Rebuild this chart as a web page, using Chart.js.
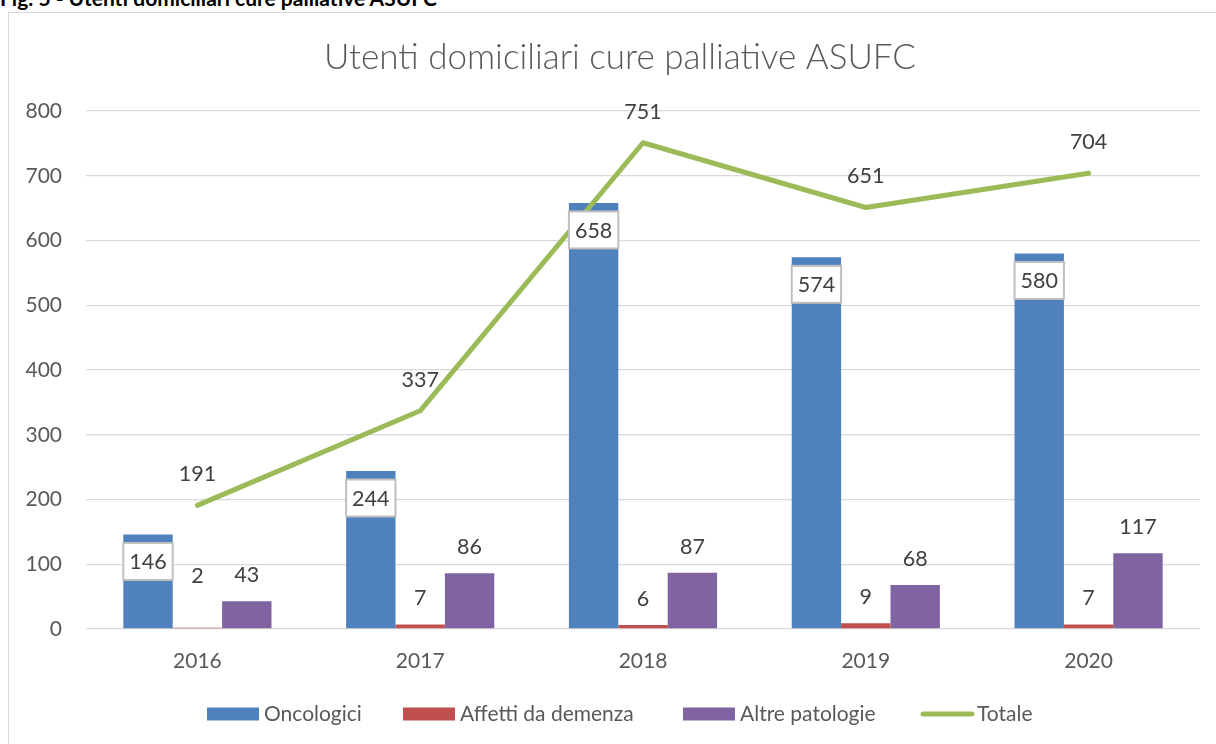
<!DOCTYPE html>
<html>
<head>
<meta charset="utf-8">
<script src="https://cdn.jsdelivr.net/npm/chart.js@4.4.1/dist/chart.umd.min.js"></script>
<style>
  html, body { margin: 0; padding: 0; background: #fff; overflow: hidden; }
  body { width: 1216px; height: 744px; position: relative; }
  #caption { position: absolute; left: 0; top: -14px; font: bold 21px Lato, sans-serif; color: #000; white-space: nowrap; line-height: 24px; }
  #frame { position: absolute; left: 8px; top: 12px; width: 1260px; height: 800px; border: 1px solid #D9D9D9; box-sizing: border-box; background: #fff; }
  #wrap { position: absolute; left: 0; top: 0; width: 1216px; height: 744px; }
</style>
</head>
<body>
<div id="caption">Fig. 5 - Utenti domiciliari cure palliative ASUFC</div>
<div id="frame"></div>
<div id="wrap"><canvas id="c" width="1216" height="744"></canvas></div>
<script>
const chartTitle = 'Utenti domiciliari cure palliative ASUFC';
const years = ['2016', '2017', '2018', '2019', '2020'];
const oncologici = [146, 244, 658, 574, 580];
const demenza = [2, 7, 6, 9, 7];
const altrePatologie = [43, 86, 87, 68, 117];
const totale = [191, 337, 751, 651, 704];
const seriesNames = ['Oncologici', 'Affetti da demenza', 'Altre patologie', 'Totale'];
const yMin = 0, yMax = 800, yStep = 100;

const FONT = 'Lato, sans-serif';
const TEXT = '#595959';
const LABEL = '#404040';

const labelPlugin = {
  id: 'excelLabels',
  afterDatasetsDraw(chart) {
    const ctx = chart.ctx;
    ctx.save();
    ctx.font = '21.5px ' + FONT;
    ctx.textAlign = 'center';
    ctx.textBaseline = 'middle';
    chart.data.datasets.forEach((ds, di) => {
      const meta = chart.getDatasetMeta(di);
      meta.data.forEach((el, i) => {
        const txt = String(ds.data[i]);
        if (di === 0) {
          const w = el.width, h = 37;
          const cy = el.y + 27;
          ctx.fillStyle = '#fff';
          ctx.fillRect(el.x - w / 2, cy - h / 2, w, h);
          ctx.strokeStyle = '#BFBFBF';
          ctx.lineWidth = 2;
          ctx.strokeRect(el.x - w / 2, cy - h / 2, w, h);
          ctx.fillStyle = LABEL;
          ctx.fillText(txt, el.x, cy + 1);
        } else if (di === 3) {
          ctx.fillStyle = LABEL;
          ctx.fillText(txt, el.x, el.y - 31);
        } else {
          let off = 26;
          if (di === 1 && i === 0) off = 52;
          ctx.fillStyle = LABEL;
          ctx.fillText(txt, el.x, el.y - off);
        }
      });
    });
    ctx.restore();
  },
  afterDraw(chart) {
    const ctx = chart.ctx;
    ctx.save();
    ctx.font = '300 35px ' + FONT;
    ctx.fillStyle = TEXT;
    ctx.textAlign = 'center';
    ctx.textBaseline = 'alphabetic';
    ctx.fillText(chartTitle, 620, 69);
    const legendX = [207, 403, 683, 920];
    const cy = 714;
    ctx.font = '21px ' + FONT;
    ctx.textAlign = 'left';
    ctx.textBaseline = 'middle';
    chart.data.datasets.forEach((ds, di) => {
      const x = legendX[di];
      if (ds.type === 'line') {
        ctx.strokeStyle = ds.borderColor;
        ctx.lineWidth = 5;
        ctx.lineCap = 'round';
        ctx.beginPath();
        ctx.moveTo(x + 3, cy);
        ctx.lineTo(x + 52, cy);
        ctx.stroke();
      } else {
        ctx.fillStyle = ds.backgroundColor;
        ctx.fillRect(x, cy - 6.5, 52, 13);
      }
      ctx.fillStyle = TEXT;
      ctx.fillText(ds.label, x + 57, cy);
    });
    ctx.restore();
  }
};

new Chart(document.getElementById('c'), {
  data: {
    labels: years,
    datasets: [
      { type: 'bar', label: seriesNames[0], data: oncologici, backgroundColor: '#4F81BD', order: 1 },
      { type: 'bar', label: seriesNames[1], data: demenza, backgroundColor: '#C0504D', order: 1 },
      { type: 'bar', label: seriesNames[2], data: altrePatologie, backgroundColor: '#8064A2', order: 1 },
      { type: 'line', label: seriesNames[3], data: totale, borderColor: '#9BBB59', backgroundColor: '#9BBB59',
        borderWidth: 5, pointRadius: 0, borderCapStyle: 'round', borderJoinStyle: 'round', tension: 0, order: 0 }
    ]
  },
  options: {
    responsive: false,
    animation: false,
    events: [],
    layout: { padding: { top: 111, left: 0, right: 16, bottom: 65 } },
    datasets: { bar: { categoryPercentage: 0.665, barPercentage: 1.0 } },
    plugins: { legend: { display: false }, title: { display: false }, tooltip: { enabled: false } },
    scales: {
      x: {
        grid: { display: false, drawTicks: false },
        border: { display: false },
        ticks: { color: TEXT, font: { family: FONT, size: 21 }, padding: 20 },
        afterFit(s) { s.height = 50; }
      },
      y: {
        min: yMin, max: yMax,
        grid: { color: '#D9D9D9', lineWidth: 1.3, drawTicks: false },
        border: { display: false },
        ticks: { stepSize: yStep, color: TEXT, font: { family: FONT, size: 21 }, padding: 24 },
        afterFit(s) { s.width = 86; }
      }
    }
  },
  plugins: [labelPlugin]
});
</script>
</body>
</html>
